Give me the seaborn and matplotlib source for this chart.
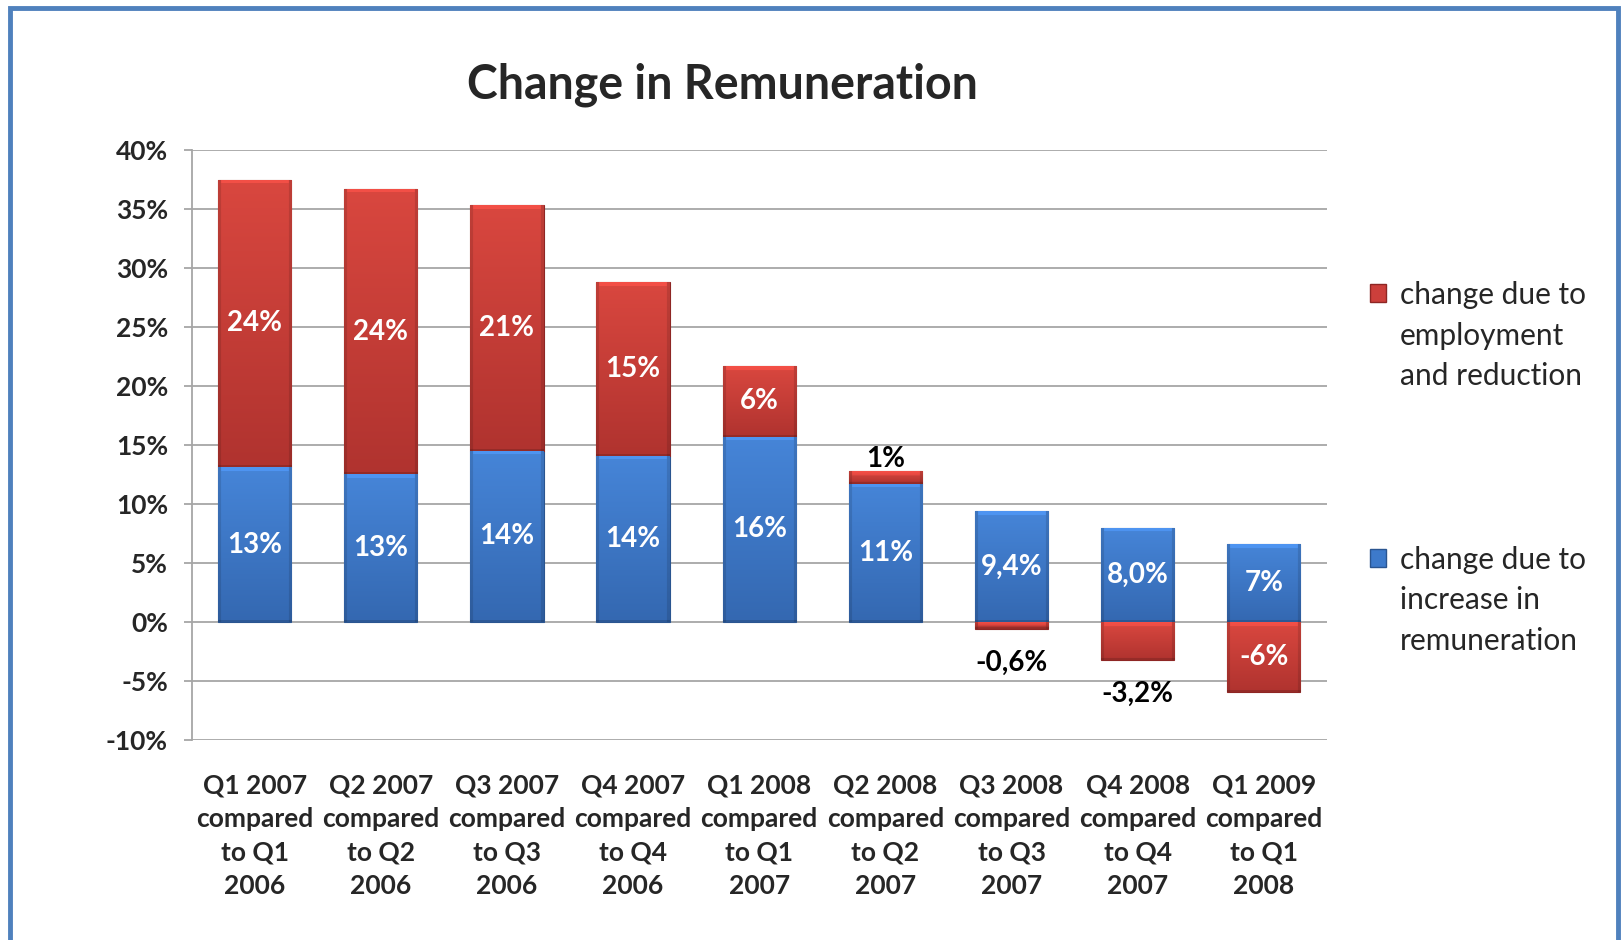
import numpy as np
import pandas as pd
import seaborn as sns
import matplotlib.pyplot as plt
from matplotlib.patches import Patch, Rectangle
from matplotlib.legend_handler import HandlerPatch
from matplotlib.colors import to_rgb

periods = [
    "Q1 2007\ncompared\nto Q1\n2006",
    "Q2 2007\ncompared\nto Q2\n2006",
    "Q3 2007\ncompared\nto Q3\n2006",
    "Q4 2007\ncompared\nto Q4\n2006",
    "Q1 2008\ncompared\nto Q1\n2007",
    "Q2 2008\ncompared\nto Q2\n2007",
    "Q3 2008\ncompared\nto Q3\n2007",
    "Q4 2008\ncompared\nto Q4\n2007",
    "Q1 2009\ncompared\nto Q1\n2008",
]
increase_remuneration = [13.1, 12.5, 14.5, 14.1, 15.7, 11.7, 9.4, 8.0, 6.6]
employment_reduction = [24.4, 24.2, 20.8, 14.7, 6.0, 1.1, -0.6, -3.2, -5.9]
increase_labels = ["13%", "13%", "14%", "14%", "16%", "11%", "9,4%", "8,0%", "7%"]
employment_labels = ["24%", "24%", "21%", "15%", "6%", "1%", "-0,6%", "-3,2%", "-6%"]
legend_labels = ["change due to\nemployment\nand reduction",
                 "change due to\nincrease in\nremuneration"]
yticks = [-10, -5, 0, 5, 10, 15, 20, 25, 30, 35, 40]

RED = "#cc3f3b"
RED_TOP, RED_BOT = "#d9473f", "#b0332f"
RED_EDGE = "#8e2624"
BLUE = "#3d7acb"
BLUE_TOP, BLUE_BOT = "#4685d8", "#3468b1"
BLUE_EDGE = "#2a5590"
LBL = 20
PX_PER_PCT = 11.8  # axes height in pixels / y range

sns.set_style("white")
plt.rcParams["font.family"] = ["Lato", "DejaVu Sans"]

df = pd.DataFrame({
    "period": periods,
    "blue": increase_remuneration,
    "red": employment_reduction,
})
# red segment sits on top of the blue one when positive, hangs below zero otherwise
df["red_bottom"] = np.where(df["red"] > 0, df["blue"], 0)

fig = plt.figure(figsize=(16.23, 9.40), dpi=100)
ax = fig.add_axes([0.118, 0.2128, 0.6996, 0.6276])

sns.barplot(data=df, x="period", y="blue", color=BLUE, width=0.58,
            edgecolor=BLUE_EDGE, linewidth=0.8, saturation=1, ax=ax, zorder=3)
sns.barplot(data=df, x="period", y="red", bottom=df["red_bottom"], color=RED,
            width=0.58, edgecolor=RED_EDGE, linewidth=0.8, saturation=1, ax=ax,
            zorder=3)

blue_bars, red_bars = ax.containers[0], ax.containers[1]


def shade(bar, top, bot):
    # vertical gradient with a thin light bevel on top, clipped to the bar
    x, y, w, h = bar.get_x(), bar.get_y(), bar.get_width(), bar.get_height()
    n = max(int(abs(h) * PX_PER_PCT), 6)
    t = np.linspace(0, 1, n)[:, None]
    rgb = (1 - t) * np.array(to_rgb(bot)) + t * np.array(to_rgb(top))
    img = np.repeat(rgb[:, None, :], 72, axis=1)
    img[-4:, 3:-3, :] = np.clip(img[-4:, 3:-3, :] * 1.12, 0, 1)
    img[:, :3, :] *= 0.88
    img[:, -3:, :] *= 0.88
    img[:2, :, :] *= 0.85
    y0, y1 = min(y, y + h), max(y, y + h)
    im = ax.imshow(img, extent=[x, x + w, y0, y1], origin="lower",
                   aspect="auto", zorder=3.5, interpolation="bilinear")
    im.set_clip_path(bar)


for bar in blue_bars:
    shade(bar, BLUE_TOP, BLUE_BOT)
for bar in red_bars:
    shade(bar, RED_TOP, RED_BOT)

ax.bar_label(blue_bars, labels=increase_labels, label_type="center",
             color="white", fontsize=LBL, fontweight="bold", zorder=5)
small = [abs(v) < 4 for v in employment_reduction]
ax.bar_label(red_bars, labels=["" if s else l for s, l in zip(small, employment_labels)],
             label_type="center", color="white", fontsize=LBL, fontweight="bold",
             zorder=5)
ax.bar_label(red_bars,
             labels=[l if s and v > 0 else "" for s, l, v in
                     zip(small, employment_labels, employment_reduction)],
             label_type="edge", padding=-1, color="black", fontsize=LBL,
             fontweight="bold", zorder=5)
ax.bar_label(red_bars,
             labels=[l if s and v < 0 else "" for s, l, v in
                     zip(small, employment_labels, employment_reduction)],
             label_type="edge", padding=15, color="black", fontsize=LBL,
             fontweight="bold", zorder=5)

ax.set_ylim(-10, 40)
ax.set_yticks(yticks)
ax.set_yticklabels([f"{t}%" for t in yticks], fontsize=19, fontweight="bold")
ax.set_xticks(range(len(periods)))
ax.set_xticklabels(periods, fontsize=19, fontweight="bold", linespacing=1.48)
ax.set_xlim(-0.5, len(periods) - 0.5)
ax.set_xlabel("")
ax.set_ylabel("")
ax.grid(axis="y", color="#a6a6a6", linewidth=1.3, zorder=0)
ax.set_axisbelow(True)
for side in ["top", "right", "bottom"]:
    ax.spines[side].set_visible(False)
ax.spines["left"].set_color("#a6a6a6")
ax.spines["left"].set_linewidth(1.3)
ax.tick_params(axis="y", length=6, width=1.3, color="#a6a6a6", pad=11, left=True)
ax.tick_params(axis="x", length=0, pad=24)


def top_square(legend, orig_handle, xdescent, ydescent, width, height, fontsize):
    # put the legend key beside the first line of the label
    return Rectangle((-xdescent, -ydescent + 31), width, height)


handles = [Patch(facecolor=RED, edgecolor=RED_EDGE),
           Patch(facecolor=BLUE, edgecolor=BLUE_EDGE)]
leg = ax.legend(handles, legend_labels, loc="upper left",
                bbox_to_anchor=(1355 / 1623, 1 - 266 / 940),
                bbox_transform=fig.transFigure,
                frameon=False, fontsize=21.5, labelspacing=5.2, handlelength=0.55,
                handleheight=0.55, handletextpad=0.45, borderpad=0,
                handler_map={Patch: HandlerPatch(patch_func=top_square)})
for txt in leg.get_texts():
    txt.set_linespacing(1.55)

fig.text(722 / 1623, 1 - 85 / 940, "Change in Remuneration", ha="center",
         va="center", fontsize=33.5, fontweight="bold")

# blue frame around the whole chart
fig.patches.append(Rectangle((10 / 1623, -0.05), 1608 / 1623, 1.05 - 8 / 940,
                             transform=fig.transFigure, fill=False,
                             edgecolor="#4f81bd", linewidth=3.5, zorder=10))

fig.savefig("out.png", dpi=100)
